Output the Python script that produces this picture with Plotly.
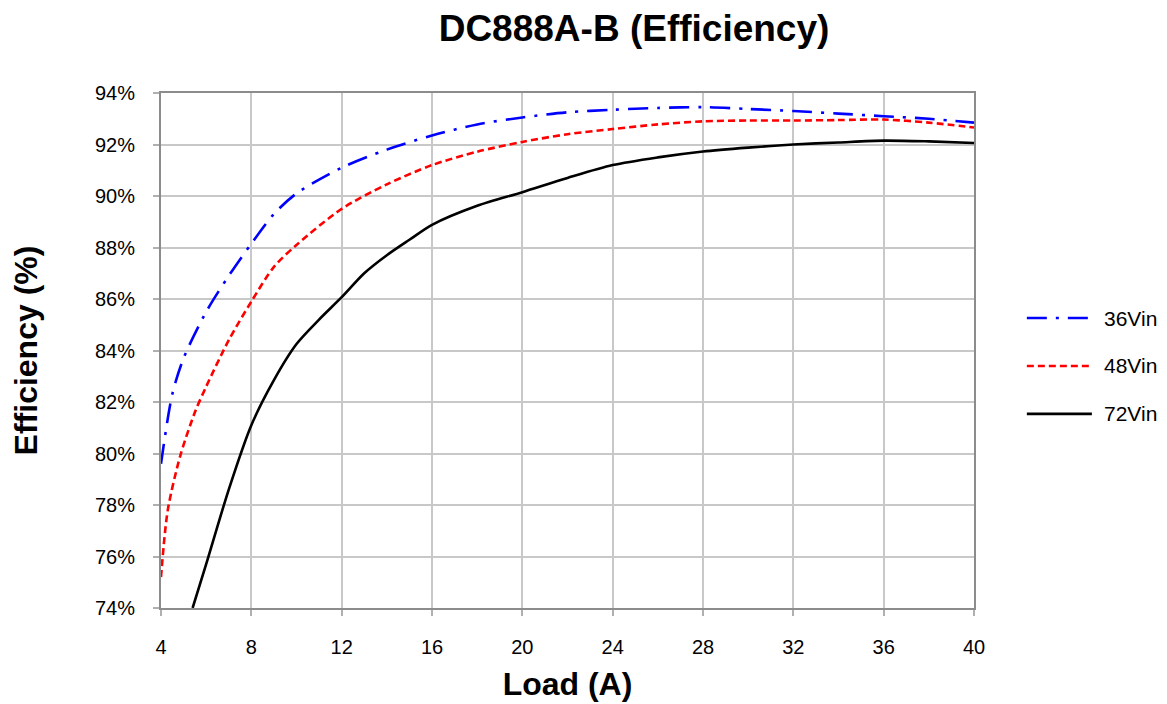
import plotly.graph_objects as go

# Data
load_36 = [4, 4.5, 5, 6, 7, 8, 9, 10, 12, 14, 16, 18, 20, 22, 24, 26, 28, 30, 32, 34, 36, 38, 40]
eff_36 = [79.6, 82.3, 83.7, 85.5, 86.9, 88.15, 89.3, 90.1, 91.1, 91.8, 92.35, 92.78, 93.05, 93.25, 93.35, 93.42, 93.45, 93.38, 93.3, 93.2, 93.1, 93.0, 92.85]

load_48 = [4, 4.3, 4.85, 5.5, 6, 7, 8, 9, 10, 12, 14, 16, 18, 20, 22, 24, 26, 28, 30, 32, 34, 36, 38, 40]
eff_48 = [75.2, 77.8, 79.9, 81.6, 82.6, 84.4, 85.9, 87.25, 88.1, 89.5, 90.45, 91.2, 91.72, 92.1, 92.4, 92.6, 92.78, 92.9, 92.93, 92.93, 92.95, 92.97, 92.85, 92.66]

load_72 = [5.4, 6, 7, 8, 9, 10, 11, 12, 13, 14, 15, 16, 18, 20, 22, 24, 26, 28, 30, 32, 34, 36, 38, 40]
eff_72 = [74.0, 75.7, 78.6, 81.1, 82.85, 84.25, 85.2, 86.07, 87.0, 87.7, 88.3, 88.88, 89.62, 90.15, 90.7, 91.2, 91.5, 91.73, 91.88, 92.0, 92.08, 92.15, 92.12, 92.06]

x_ticks = [4, 8, 12, 16, 20, 24, 28, 32, 36, 40]
y_ticks = [74, 76, 78, 80, 82, 84, 86, 88, 90, 92, 94]
y_tick_labels = [f"{v}%" for v in y_ticks]

series_names = ["36Vin", "48Vin", "72Vin"]
series_colors = ["#0000ff", "#ff0000", "#000000"]
series_dashes = ["20px,9px,3px,9px", "7px,4px", "solid"]

FONT = "Liberation Sans, Arial, sans-serif"

fig = go.Figure()
for xs, ys, name, color, dash in zip([load_36, load_48, load_72], [eff_36, eff_48, eff_72],
                                     series_names, series_colors, series_dashes):
    fig.add_trace(go.Scatter(x=xs, y=ys, mode="lines", name=name, showlegend=False,
                             line=dict(color=color, width=2.6, dash=dash, shape="spline", smoothing=0.8)))

# Legend drawn beside the plot (long line samples like the reference)
legend_y = [0.563, 0.470, 0.377]
for yy, name, color, dash in zip(legend_y, series_names, series_colors, series_dashes):
    fig.add_shape(type="line", xref="paper", yref="paper", x0=1.065, x1=1.145, y0=yy, y1=yy,
                  line=dict(color=color, width=2.6, dash=dash))
    fig.add_annotation(xref="paper", yref="paper", x=1.157, y=yy, text=name, showarrow=False,
                       xanchor="left", yanchor="middle", font=dict(size=21, family=FONT, color="black"))

fig.update_layout(
    width=1167, height=704,
    paper_bgcolor="white", plot_bgcolor="white",
    margin=dict(l=152.7, r=200.7, t=85.3, b=104.3, autoexpand=False),
    font=dict(family=FONT, color="black"),
    title=dict(text="<b>DC888A-B (Efficiency)</b>", x=626/1167, xanchor="center",
               y=1 - 20/704, yanchor="middle", font=dict(size=37, family=FONT)),
    showlegend=False,
)

fig.update_xaxes(
    range=[4, 40], tickvals=x_ticks, ticktext=[str(v) for v in x_ticks],
    showgrid=True, gridcolor="#c8c8c8", gridwidth=1.5,
    showline=True, linecolor="#8c8c8c", linewidth=2, mirror=True,
    ticks="outside", ticklen=6, tickcolor="#b0b0b0", tickwidth=1.5,
    tickfont=dict(size=20, family=FONT), zeroline=False, ticklabelstandoff=14,
    title=dict(text="<b>Load (A)</b>", font=dict(size=32, family=FONT), standoff=16),
)
fig.update_yaxes(
    range=[74, 94], tickvals=y_ticks, ticktext=y_tick_labels,
    showgrid=True, gridcolor="#c8c8c8", gridwidth=1.5,
    showline=True, linecolor="#8c8c8c", linewidth=2, mirror=True,
    ticks="outside", ticklen=6, tickcolor="#b0b0b0", tickwidth=1.5,
    tickfont=dict(size=20, family=FONT), zeroline=False, ticklabelstandoff=14,
    title=dict(text="<b>Efficiency (%)</b>", font=dict(size=32, family=FONT), standoff=55),
)

fig.write_html("out.html")
